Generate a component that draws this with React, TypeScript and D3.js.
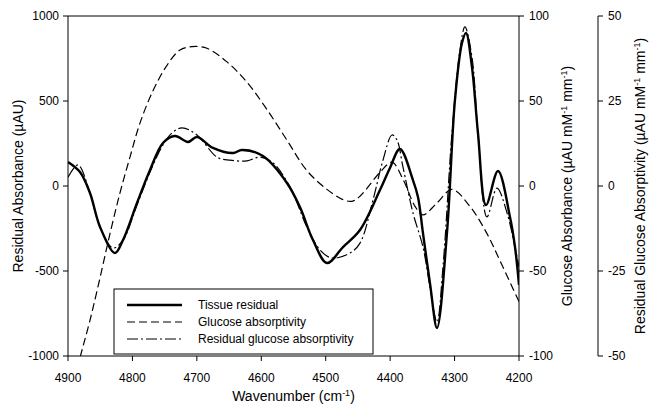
import React from "react";
import * as d3 from "d3";

const xTicks = [4900, 4800, 4700, 4600, 4500, 4400, 4300, 4200];
const leftTicks = [1000, 500, 0, -500, -1000];
const right1Ticks = [100, 50, 0, -50, -100];
const right2Ticks = [50, 25, 0, -25, -50];

const tissueW = [4900, 4881.4, 4865.9, 4850.3, 4827.1, 4814.6, 4792.9, 4772.7, 4752.6, 4734, 4713.7, 4699.8, 4675, 4643.9, 4630, 4597.4, 4560.2, 4540, 4519.8, 4498, 4473.2, 4446.8, 4415.8, 4400.3, 4384.8, 4364.6, 4356.8, 4349.1, 4338.2, 4327.3, 4311.8, 4299.4, 4288.5, 4282.3, 4273, 4263.7, 4251.2, 4232.6, 4214, 4206.2, 4200];
const tissueV = [141, 82, -41, -241, -394, -318, -100, 94, 253, 294, 259, 288, 224, 194, 212, 176, 18, -124, -318, -453, -359, -259, -24, 106, 218, 35, -65, -276, -571, -835, -276, 506, 841, 900, 700, 312, -112, 88, -182, -359, -582];

const glucoseW = [4900, 4881.4, 4865.9, 4850.3, 4834.8, 4819.3, 4803.8, 4788.3, 4768.1, 4746.4, 4726.2, 4707.5, 4684.3, 4653.2, 4622.2, 4591.2, 4560.2, 4529.1, 4498.1, 4473.2, 4459.2, 4446.8, 4415.8, 4397.1, 4380.1, 4361.4, 4349.1, 4327.3, 4304, 4276.1, 4249.7, 4229.5, 4200];
const glucoseV = [-128, -101, -79, -54, -28, -4, 17, 37, 56, 71, 80, 82, 81, 73, 61, 45, 27, 9, -2, -8, -9, -6, 8, 14, 4, -12, -17, -10, -2, -12, -28, -44, -68];

const residW = [4900, 4884.5, 4865.9, 4850.3, 4830.2, 4814.6, 4792.9, 4772.7, 4752.6, 4738.6, 4723.1, 4699.8, 4668.7, 4648.6, 4622.2, 4602, 4581.8, 4555.4, 4529.1, 4508.9, 4490.2, 4462.3, 4446.8, 4426.6, 4411.1, 4397.1, 4389.4, 4380.1, 4364.6, 4349.1, 4338.2, 4327.3, 4318, 4304, 4291.6, 4283.9, 4273, 4263.7, 4249.7, 4234.2, 4218.6, 4203.1, 4200];
const residV = [2.6, 6.2, -2.1, -12.1, -18.2, -15.9, -5.6, 4.1, 12.1, 15.6, 17.1, 15, 8.5, 7.6, 7.4, 8.5, 6.8, -0.3, -12.1, -18.8, -21.2, -19.7, -16.8, -4.1, 7.6, 15, 13.5, 5.6, -7.9, -17.9, -29.7, -40, -23.8, 15.6, 40, 46.8, 37.9, 15.6, -9.1, -0.6, -7.9, -20.9, -23.8];

const legendLabels = ["Tissue residual", "Glucose absorptivity", "Residual glucose absorptivity"];

const L = 68, R = 519, T = 16, B = 356, R2 = 598;
const FONT = "'Liberation Sans', Arial, Helvetica, sans-serif";
const fmt = (v: number) => (v < 0 ? "-" + Math.abs(v) : String(v));

export default function App() {
  const x = d3.scaleLinear().domain([4900, 4200]).range([L, R]);
  const yL = d3.scaleLinear().domain([-1000, 1000]).range([B, T]);
  const yG = d3.scaleLinear().domain([-100, 100]).range([B, T]);
  const yR = d3.scaleLinear().domain([-50, 50]).range([B, T]);

  const mk = (ws: number[], vs: number[], ys: d3.ScaleLinear<number, number>) =>
    d3.line<number>().x((_, i) => x(ws[i])).y((_, i) => ys(vs[i])).curve(d3.curveCatmullRom.alpha(0.5))(vs.map((v) => v)) || "";

  const tissuePath = mk(tissueW, tissueV, yL);
  const glucosePath = mk(glucoseW, glucoseV, yG);
  const residPath = mk(residW, residV, yR);

  const dash = "8,4";
  const dashDot = "11,3,2,3";
  const legendY = [305, 322, 339];
  const styles = [
    { w: 2.4, d: "" },
    { w: 1.2, d: dash },
    { w: 1.2, d: dashDot },
  ];

  return (
    <svg width={652} height={406} style={{ position: "absolute", left: 0, top: 0, background: "#fff" }} fontFamily={FONT}>
      <defs>
        <clipPath id="plotclip">
          <rect x={L} y={T} width={R - L} height={B - T} />
        </clipPath>
      </defs>
      <rect x={0} y={0} width={652} height={406} fill="#fff" />
      <g clipPath="url(#plotclip)" fill="none" stroke="#000">
        <path d={glucosePath} strokeWidth={1.2} strokeDasharray={dash} />
        <path d={residPath} strokeWidth={1.2} strokeDasharray={dashDot} />
        <path d={tissuePath} strokeWidth={2.4} />
      </g>
      {/* frame */}
      <g stroke="#000" strokeWidth={1} fill="none">
        <line x1={L} y1={T} x2={R} y2={T} />
        <line x1={L} y1={T} x2={L} y2={B} />
        <line x1={L} y1={B} x2={R} y2={B} />
        <line x1={R} y1={T} x2={R} y2={B} />
        <line x1={R2} y1={T} x2={R2} y2={B} />
      </g>
      {/* x axis */}
      {xTicks.map((t) => (
        <g key={"x" + t}>
          <line x1={x(t)} x2={x(t)} y1={B} y2={B + 5} stroke="#000" />
          <text x={x(t)} y={382} fontSize={12} textAnchor="middle">{t}</text>
        </g>
      ))}
      <text x={(L + R) / 2} y={401} fontSize={14} textAnchor="middle">
        Wavenumber (cm<tspan dy={-5} fontSize={9}>-1</tspan><tspan dy={5}>)</tspan>
      </text>
      {/* left axis */}
      {leftTicks.map((t) => (
        <g key={"l" + t}>
          <line x1={L - 5} x2={L} y1={yL(t)} y2={yL(t)} stroke="#000" />
          <text x={L - 9} y={yL(t) + 4} fontSize={12} textAnchor="end">{fmt(t)}</text>
        </g>
      ))}
      <text transform={`translate(23,${(T + B) / 2}) rotate(-90)`} fontSize={14} textAnchor="middle">
        Residual Absorbance (µAU)
      </text>
      {/* right axis 1 */}
      {right1Ticks.map((t) => (
        <g key={"r1" + t}>
          <line x1={R} x2={R + 5} y1={yG(t)} y2={yG(t)} stroke="#000" />
          <text x={R + 10} y={yG(t) + 4} fontSize={12} textAnchor="start">{fmt(t)}</text>
        </g>
      ))}
      <text transform={`translate(572,${(T + B) / 2}) rotate(-90)`} fontSize={14} textAnchor="middle">
        Glucose Absorbance (µAU mM<tspan dy={-5} fontSize={9}>-1</tspan><tspan dy={5}> mm</tspan><tspan dy={-5} fontSize={9}>-1</tspan><tspan dy={5}>)</tspan>
      </text>
      {/* right axis 2 */}
      {right2Ticks.map((t) => (
        <g key={"r2" + t}>
          <line x1={R2} x2={R2 + 5} y1={yR(t)} y2={yR(t)} stroke="#000" />
          <text x={R2 + 10} y={yR(t) + 4} fontSize={12} textAnchor="start">{fmt(t)}</text>
        </g>
      ))}
      <text transform={`translate(645,${(T + B) / 2}) rotate(-90)`} fontSize={14} textAnchor="middle">
        Residual Glucose Absorptivity (µAU mM<tspan dy={-5} fontSize={9}>-1</tspan><tspan dy={5}> mm</tspan><tspan dy={-5} fontSize={9}>-1</tspan><tspan dy={5}>)</tspan>
      </text>
      {/* legend */}
      <rect x={114} y={289} width={259} height={65} fill="#fff" stroke="#000" strokeWidth={1} />
      {legendLabels.map((lab, i) => (
        <g key={lab}>
          <line x1={127} x2={182} y1={legendY[i]} y2={legendY[i]} stroke="#000" strokeWidth={styles[i].w} strokeDasharray={styles[i].d} />
          <text x={198} y={legendY[i] + 4} fontSize={12}>{lab}</text>
        </g>
      ))}
    </svg>
  );
}
